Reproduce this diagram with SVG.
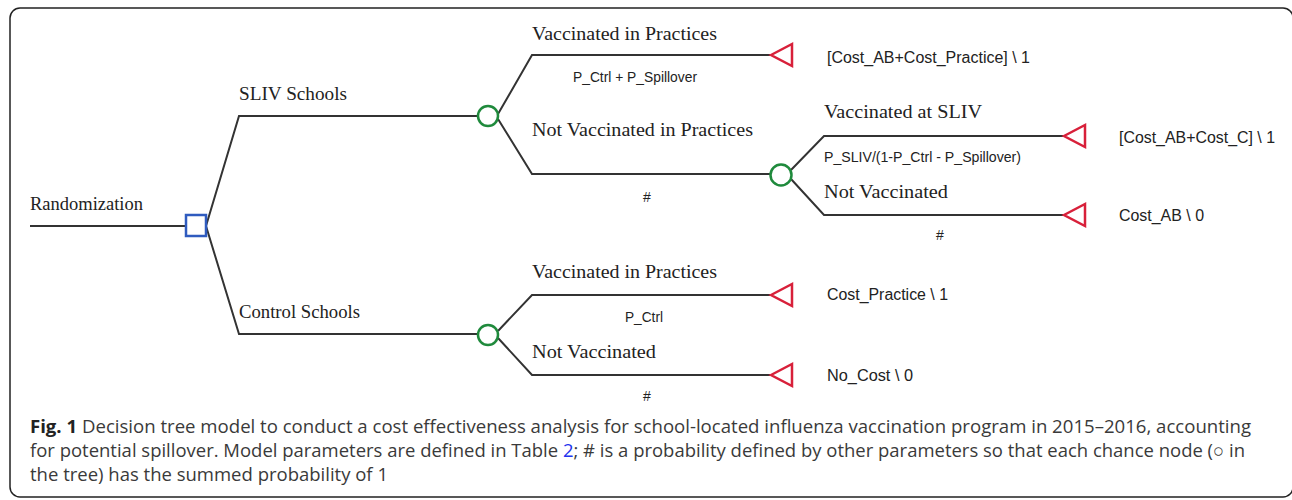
<svg xmlns="http://www.w3.org/2000/svg" width="1292" height="500" viewBox="0 0 1292 500">
<style>
.ln{fill:none;stroke:#333;stroke-width:2}
.lab{font-family:"Liberation Serif",serif;font-size:19.5px;fill:#222}
.prob{font-family:"Liberation Sans",Arial,sans-serif;font-size:14px;fill:#222}
.pay{font-family:"Liberation Sans",Arial,sans-serif;font-size:16px;fill:#222}
.dec{fill:#fff;stroke:#2f5bbf;stroke-width:2.5}
.ch{fill:#fff;stroke:#1f8a3c;stroke-width:2.5}
.term{fill:#fff;stroke:#d8203a;stroke-width:2.5;stroke-linejoin:miter}
.cap{font-family:"Open Sans","Noto Sans",sans-serif;font-size:18.5px;fill:#3a3a3a}
</style>
<rect x="10" y="8" width="1283" height="489" rx="10" fill="#fff" stroke="#222" stroke-width="1.5"/>
<g id="connectors">
<path class="ln" d="M30,226 H186"/>
<path class="ln" d="M206,226 L239,116 H478"/>
<path class="ln" d="M206,226 L239,334 H477"/>
<path class="ln" d="M498,114 L532,55 H770"/>
<path class="ln" d="M498,119 L532,174 H770"/>
<path class="ln" d="M791,170 L824,136 H1063"/>
<path class="ln" d="M791,179 L824,215 H1063"/>
<path class="ln" d="M498,331 L532,295 H770"/>
<path class="ln" d="M498,338 L532,375 H770"/>
</g>
<g id="randomization">
<rect class="dec" x="186" y="215" width="20" height="21"/>
<text class="lab" x="30" y="210" textLength="113" lengthAdjust="spacingAndGlyphs">Randomization</text>
</g>
<g id="sliv-schools">
<text class="lab" x="239" y="100" textLength="108" lengthAdjust="spacingAndGlyphs">SLIV Schools</text>
<circle class="ch" cx="488" cy="116" r="10"/>
</g>
<g id="control-schools">
<text class="lab" x="239" y="318" textLength="121" lengthAdjust="spacingAndGlyphs">Control Schools</text>
<circle class="ch" cx="488" cy="335" r="10"/>
</g>
<g id="sliv-vacc-practices">
<text class="lab" x="532" y="40" textLength="185" lengthAdjust="spacingAndGlyphs">Vaccinated in Practices</text>
<text class="prob" x="573" y="82" textLength="124" lengthAdjust="spacingAndGlyphs">P_Ctrl + P_Spillover</text>
<polygon class="term" points="771,55 792,44 792,66"/>
<text class="pay" x="827" y="63" textLength="203" lengthAdjust="spacingAndGlyphs">[Cost_AB+Cost_Practice] \ 1</text>
</g>
<g id="sliv-not-vacc-practices">
<text class="lab" x="532" y="136" textLength="221" lengthAdjust="spacingAndGlyphs">Not Vaccinated in Practices</text>
<text class="prob" x="643" y="202">#</text>
<circle class="ch" cx="781" cy="175" r="10.5"/>
</g>
<g id="vacc-at-sliv">
<text class="lab" x="824" y="118" textLength="158" lengthAdjust="spacingAndGlyphs">Vaccinated at SLIV</text>
<text class="prob" x="824" y="162" textLength="197" lengthAdjust="spacingAndGlyphs">P_SLIV/(1-P_Ctrl - P_Spillover)</text>
<polygon class="term" points="1064,136 1085,125 1085,147"/>
<text class="pay" x="1119" y="143" textLength="156" lengthAdjust="spacingAndGlyphs">[Cost_AB+Cost_C] \ 1</text>
</g>
<g id="not-vacc-sliv">
<text class="lab" x="824" y="198" textLength="124" lengthAdjust="spacingAndGlyphs">Not Vaccinated</text>
<text class="prob" x="936" y="240">#</text>
<polygon class="term" points="1064,215 1085,204 1085,226"/>
<text class="pay" x="1119" y="221" textLength="85" lengthAdjust="spacingAndGlyphs">Cost_AB \ 0</text>
</g>
<g id="ctrl-vacc-practices">
<text class="lab" x="532" y="278" textLength="185" lengthAdjust="spacingAndGlyphs">Vaccinated in Practices</text>
<text class="prob" x="625" y="322" textLength="38" lengthAdjust="spacingAndGlyphs">P_Ctrl</text>
<polygon class="term" points="771,295 792,284 792,306"/>
<text class="pay" x="827" y="300" textLength="121" lengthAdjust="spacingAndGlyphs">Cost_Practice \ 1</text>
</g>
<g id="ctrl-not-vacc">
<text class="lab" x="532" y="358" textLength="124" lengthAdjust="spacingAndGlyphs">Not Vaccinated</text>
<text class="prob" x="643" y="401">#</text>
<polygon class="term" points="771,375 792,364 792,386"/>
<text class="pay" x="827" y="381" textLength="86" lengthAdjust="spacingAndGlyphs">No_Cost \ 0</text>
</g>
<g id="caption">
<text class="cap" x="30" y="433" textLength="1221" lengthAdjust="spacingAndGlyphs"><tspan font-weight="bold" fill="#222">Fig. 1</tspan> Decision tree model to conduct a cost effectiveness analysis for school-located influenza vaccination program in 2015–2016, accounting</text>
<text class="cap" x="30" y="457" textLength="1215" lengthAdjust="spacingAndGlyphs">for potential spillover. Model parameters are defined in Table <tspan fill="#2233ee">2</tspan>; # is a probability defined by other parameters so that each chance node (○ in</text>
<text class="cap" x="30" y="481">the tree) has the summed probability of 1</text>
</g>
</svg>
